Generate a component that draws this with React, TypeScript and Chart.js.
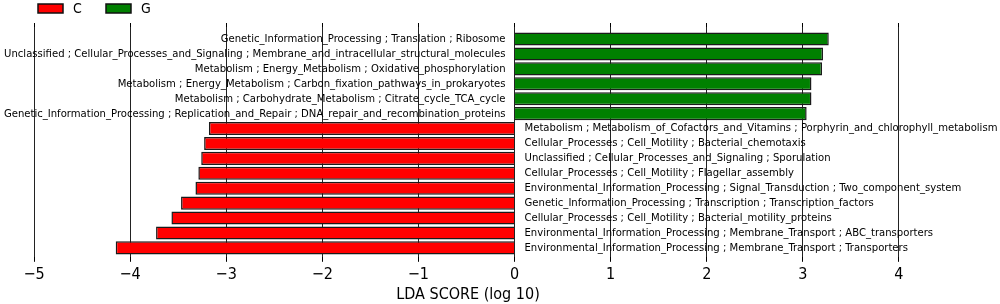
import React, { useEffect, useRef } from "react";
import { Chart, registerables } from "chart.js";

Chart.register(...registerables);

const categories: string[] = [
  "Genetic_Information_Processing ; Translation ; Ribosome",
  "Unclassified ; Cellular_Processes_and_Signaling ; Membrane_and_intracellular_structural_molecules",
  "Metabolism ; Energy_Metabolism ; Oxidative_phosphorylation",
  "Metabolism ; Energy_Metabolism ; Carbon_fixation_pathways_in_prokaryotes",
  "Metabolism ; Carbohydrate_Metabolism ; Citrate_cycle_TCA_cycle",
  "Genetic_Information_Processing ; Replication_and_Repair ; DNA_repair_and_recombination_proteins",
  "Metabolism ; Metabolism_of_Cofactors_and_Vitamins ; Porphyrin_and_chlorophyll_metabolism",
  "Cellular_Processes ; Cell_Motility ; Bacterial_chemotaxis",
  "Unclassified ; Cellular_Processes_and_Signaling ; Sporulation",
  "Cellular_Processes ; Cell_Motility ; Flagellar_assembly",
  "Environmental_Information_Processing ; Signal_Transduction ; Two_component_system",
  "Genetic_Information_Processing ; Transcription ; Transcription_factors",
  "Cellular_Processes ; Cell_Motility ; Bacterial_motility_proteins",
  "Environmental_Information_Processing ; Membrane_Transport ; ABC_transporters",
  "Environmental_Information_Processing ; Membrane_Transport ; Transporters",
];

const ldaScores: number[] = [
  3.27, 3.21, 3.2, 3.09, 3.09, 3.04,
  -3.18, -3.23, -3.26, -3.29, -3.32, -3.47, -3.57, -3.73, -4.15,
];

const groupNames: string[] = ["C", "G"];
const groupColors: string[] = ["#ff0000", "#008000"];
const xTickValues: number[] = [-5, -4, -3, -2, -1, 0, 1, 2, 3, 4];
const axisTitle = "LDA SCORE (log 10)";

const FONT = '"DejaVu Sans Condensed", "DejaVu Sans", sans-serif';

const barLabelsPlugin = {
  id: "barLabels",
  afterDatasetsDraw(chart: any) {
    const { ctx } = chart;
    const xs = chart.scales.x;
    const ys = chart.scales.y;
    const zero = xs.getPixelForValue(0);
    ctx.save();
    ctx.font = `11.2px ${FONT}`;
    ctx.fillStyle = "#000";
    ctx.textBaseline = "middle";
    categories.forEach((label, i) => {
      const v = ldaScores[i];
      const y = ys.getPixelForValue(i);
      if (v > 0) {
        ctx.textAlign = "right";
        ctx.fillText(label, zero - 9, y);
      } else {
        ctx.textAlign = "left";
        ctx.fillText(label, zero + 10, y);
      }
    });
    ctx.restore();
  },
};

const legendPlugin = {
  id: "customLegend",
  afterDraw(chart: any) {
    const { ctx } = chart;
    const boxX = [38, 106];
    ctx.save();
    ctx.font = `14px ${FONT}`;
    ctx.textBaseline = "middle";
    ctx.textAlign = "left";
    chart.data.datasets.forEach((ds: any, k: number) => {
      const x = boxX[k];
      ctx.fillStyle = ds.backgroundColor;
      ctx.fillRect(x, 4, 25, 9);
      ctx.strokeStyle = "#111";
      ctx.lineWidth = 1.5;
      ctx.strokeRect(x, 4, 25, 9);
      ctx.fillStyle = "#000";
      ctx.fillText(ds.label, x + 35, 9);
    });
    ctx.restore();
  },
};

export default function App() {
  const ref = useRef<HTMLCanvasElement | null>(null);

  useEffect(() => {
    if (!ref.current) return;
    const makeData = (sign: number) =>
      ldaScores
        .map((v, i) => ({ x: v, y: i }))
        .filter((p) => (sign < 0 ? p.x < 0 : p.x > 0));

    const setTicks = (scale: any) => {
      scale.ticks = xTickValues.map((v) => ({ value: v }));
    };

    const chart = new Chart(ref.current, {
      type: "bar",
      data: {
        datasets: [
          {
            label: groupNames[0],
            data: makeData(-1),
            backgroundColor: groupColors[0],
            borderColor: "#1a1a1a",
            borderWidth: 1.5,
          },
          {
            label: groupNames[1],
            data: makeData(1),
            backgroundColor: groupColors[1],
            borderColor: "#1a1a1a",
            borderWidth: 1.5,
          },
        ],
      },
      plugins: [barLabelsPlugin, legendPlugin],
      options: {
        indexAxis: "y",
        responsive: false,
        animation: false,
        grouped: false,
        barPercentage: 0.877,
        categoryPercentage: 1,
        layout: { padding: { left: 0, right: 64, top: 23, bottom: 0 } },
        plugins: {
          legend: { display: false },
          tooltip: { enabled: false },
        },
        scales: {
          y: {
            type: "linear",
            reverse: true,
            offset: false,
            min: -0.81,
            max: 14.6,
            display: false,
          },
          x: {
            type: "linear",
            position: "bottom",
            min: -5.354,
            max: 4.386,
            z: 1,
            afterBuildTicks: setTicks,
            border: { display: false },
            grid: {
              color: "#222",
              lineWidth: 1,
              borderDash: [1, 3],
              tickBorderDash: [],
              tickColor: "#000",
              tickLength: 5,
            },
            ticks: {
              padding: 3,
              color: "#000",
              font: { family: FONT, size: 16, lineHeight: 1.2 },
              callback: (v: any) =>
                Number(v) < 0 ? "\u2212" + Math.abs(Number(v)) : String(v),
            },
            title: {
              display: true,
              text: axisTitle,
              color: "#000",
              font: { family: FONT, size: 16, lineHeight: 1.0 },
              padding: { top: 0, bottom: 1 },
            },
          },
          x2: {
            type: "linear",
            position: "top",
            min: -5.354,
            max: 4.386,
            afterBuildTicks: setTicks,
            border: { display: false },
            grid: {
              drawOnChartArea: false,
              tickColor: "#000",
              tickLength: 4,
            },
            ticks: { display: false },
          },
        },
      } as any,
    });
    return () => chart.destroy();
  }, []);

  return (
    <div style={{ position: "absolute", left: 0, top: 0, width: 1000, height: 304, background: "#fff" }}>
      <canvas ref={ref} width={1000} height={304} />
    </div>
  );
}
